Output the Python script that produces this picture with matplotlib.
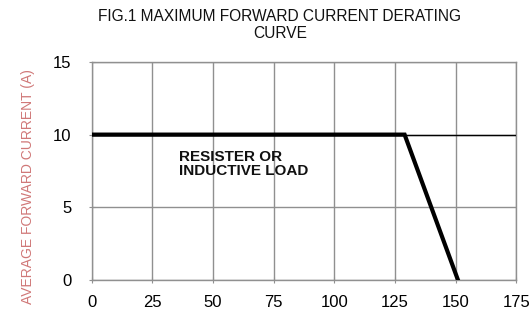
import matplotlib
matplotlib.use("Agg")
import matplotlib.pyplot as plt

plt.rcParams['font.family'] = ['Liberation Sans', 'DejaVu Sans']

temps = [0, 129, 151]
current = [10, 10, 0]
x_ticks = [0, 25, 50, 75, 100, 125, 150, 175]
y_ticks = [0, 5, 10, 15]

fig = plt.figure(figsize=(5.31, 3.16), dpi=100)
ax = fig.add_axes([0.173, 0.114, 0.799, 0.690])

ax.set_xlim(0, 175)
ax.set_ylim(0, 15)
ax.set_xticks(x_ticks)
ax.set_yticks(y_ticks)
ax.grid(True, color='#909090', linewidth=1.0)
for s in ax.spines.values():
    s.set_color('#909090')
    s.set_linewidth(1.0)
ax.tick_params(axis='both', length=5, direction='inout', color='#909090',
               labelsize=12)
ax.tick_params(axis='x', pad=8)
ax.tick_params(axis='y', pad=12)

ax.axhline(10, color='black', linewidth=1.0, zorder=3)
ax.plot(temps, current, color='black', linewidth=3.0, zorder=4,
        solid_joinstyle='miter')

ax.text(36, 8.95, "RESISTER OR\nINDUCTIVE LOAD", fontsize=11, fontweight='bold',
        va='top', ha='left', linespacing=1.0, color='#111111')

ax.set_ylabel("AVERAGE FORWARD CURRENT (A)", fontsize=10, color='#d07878')
ax.yaxis.set_label_coords(-0.135, 0.43)

fig.suptitle("FIG.1 MAXIMUM FORWARD CURRENT DERATING\nCURVE", x=0.527, y=0.97,
             fontsize=11.2, fontweight='normal', linespacing=1.15, color='#111111')

fig.savefig("out.png", dpi=100, facecolor='white')
